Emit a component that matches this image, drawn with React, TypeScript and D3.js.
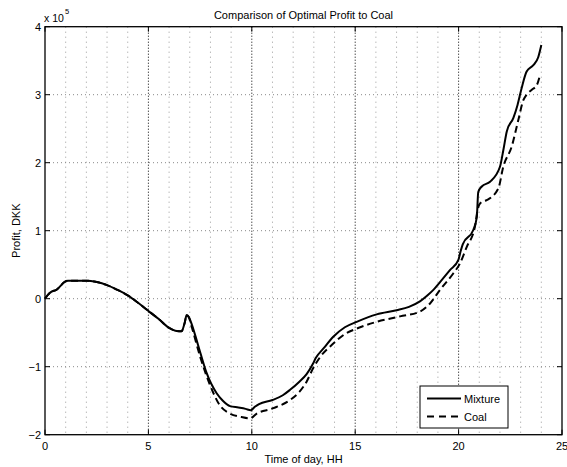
import React from 'react';
import * as d3 from 'd3';

const xTicks = [0, 5, 10, 15, 20, 25];
const yTicks = [-2, -1, 0, 1, 2, 3, 4];
const xMinorGrid = [1, 2, 3, 4, 6, 7, 8, 9, 11, 12, 13, 14, 16, 17, 18, 19, 21, 22, 23, 24];
const xMajorGrid = [5, 10, 15, 20];
const yGrid = [-1, 0, 1, 2, 3];

// shared part of both curves (hours, profit x 1e5 DKK)
const sharedX = [0, 0.15, 0.3, 0.55, 0.97, 1.1, 1.5, 2.0, 2.5, 3.0, 3.5, 4.0, 4.5, 5.0, 5.5, 6.0, 6.3, 6.6, 6.75, 6.85, 6.95];
const sharedY = [0, 0.06, 0.1, 0.13, 0.25, 0.265, 0.265, 0.265, 0.245, 0.2, 0.13, 0.05, -0.06, -0.18, -0.3, -0.43, -0.47, -0.48, -0.36, -0.24, -0.27];

const mixtureX = [7.1, 7.4, 7.8, 8.3, 8.6, 8.95, 9.35, 9.7, 9.95, 10.15, 10.35, 11.0, 11.5, 11.85, 12.3, 12.65, 12.95, 13.1, 13.5, 13.94, 14.5, 15.07, 16.04, 17.0, 17.6, 18.13, 18.5, 18.78, 19.2, 19.58, 19.99, 20.1, 20.2, 20.71, 20.88, 20.95, 21.12, 21.52, 22.0, 22.16, 22.33, 22.65, 22.85, 23.05, 23.29, 23.6, 23.85, 24.0];
const mixtureY = [-0.38, -0.68, -1.08, -1.39, -1.5, -1.58, -1.6, -1.62, -1.64, -1.59, -1.55, -1.49, -1.42, -1.34, -1.22, -1.11, -0.96, -0.87, -0.72, -0.56, -0.42, -0.34, -0.23, -0.17, -0.12, -0.04, 0.05, 0.13, 0.28, 0.42, 0.57, 0.7, 0.8, 1.01, 1.2, 1.57, 1.65, 1.72, 1.94, 2.18, 2.46, 2.66, 2.85, 3.1, 3.34, 3.43, 3.55, 3.73];

const coalX = [7.1, 7.5, 7.98, 8.46, 8.95, 9.5, 9.91, 10.24, 11.04, 11.85, 12.3, 12.65, 12.97, 13.3, 13.94, 14.5, 15.07, 16.04, 17.17, 18.13, 18.62, 19.1, 19.74, 20.07, 20.39, 20.79, 20.95, 21.1, 21.36, 21.92, 22.16, 22.57, 22.89, 23.13, 23.29, 23.53, 23.78, 23.94];
const coalY = [-0.42, -0.85, -1.27, -1.57, -1.69, -1.74, -1.76, -1.69, -1.61, -1.49, -1.37, -1.22, -1.02, -0.86, -0.66, -0.52, -0.44, -0.34, -0.26, -0.19, -0.07, 0.13, 0.37, 0.52, 0.76, 1.06, 1.35, 1.42, 1.45, 1.62, 1.94, 2.24, 2.63, 2.92, 3.0, 3.07, 3.14, 3.29];

const FONT = 'Liberation Sans, Arial, Helvetica, sans-serif';

export default function App() {
  const W = 567, H = 467;
  const L = 45, R = 562, T = 26.7, B = 434.7;
  const x = d3.scaleLinear().domain([0, 25]).range([L, R]);
  const y = d3.scaleLinear().domain([-2, 4]).range([B, T]);

  const mix: [number, number][] = [
    ...sharedX.map((v, i) => [v, sharedY[i]] as [number, number]),
    ...mixtureX.map((v, i) => [v, mixtureY[i]] as [number, number]),
  ];
  const coal: [number, number][] = [
    ...sharedX.map((v, i) => [v, sharedY[i]] as [number, number]),
    ...coalX.map((v, i) => [v, coalY[i]] as [number, number]),
  ];

  const lg = d3.line<[number, number]>().x(d => x(d[0])).y(d => y(d[1])).curve(d3.curveMonotoneX);

  const fmt = (v: number) => (v < 0 ? '\u2212' + Math.abs(v) : String(v));

  return (
    <svg width={W} height={H} style={{ position: 'absolute', left: 0, top: 0, background: '#fff' }} fontFamily={FONT}>
      <rect x={0} y={0} width={W} height={H} fill="#fff" />
      {/* grid */}
      {xMinorGrid.map(v => (
        <line key={'xm' + v} x1={x(v)} x2={x(v)} y1={T} y2={B} stroke="#9a9a9a" strokeWidth={1} strokeDasharray="1,4" />
      ))}
      {xMajorGrid.map(v => (
        <line key={'xM' + v} x1={x(v)} x2={x(v)} y1={T} y2={B} stroke="#000" strokeWidth={1} strokeDasharray="1,2" />
      ))}
      {yGrid.map(v => (
        <line key={'y' + v} x1={L} x2={R} y1={y(v)} y2={y(v)} stroke="#888" strokeWidth={1} strokeDasharray="1,3" />
      ))}
      {/* curves */}
      <path d={lg(mix) || ''} fill="none" stroke="#000" strokeWidth={2} />
      <path d={lg(coal) || ''} fill="none" stroke="#000" strokeWidth={2} strokeDasharray="7,4" />
      {/* frame */}
      <rect x={L} y={T} width={R - L} height={B - T} fill="none" stroke="#000" strokeWidth={1.3} />
      {xTicks.map(v => (
        <g key={'xt' + v}>
          <line x1={x(v)} x2={x(v)} y1={B} y2={B - 5} stroke="#000" strokeWidth={1} />
          <line x1={x(v)} x2={x(v)} y1={T} y2={T + 5} stroke="#000" strokeWidth={1} />
          <text x={x(v)} y={449.5} fontSize={11} textAnchor="middle">{fmt(v)}</text>
        </g>
      ))}
      {yTicks.map(v => (
        <g key={'yt' + v}>
          <line x1={L} x2={L + 5} y1={y(v)} y2={y(v)} stroke="#000" strokeWidth={1} />
          <line x1={R} x2={R - 5} y1={y(v)} y2={y(v)} stroke="#000" strokeWidth={1} />
          <text x={41} y={y(v) + 4} fontSize={11} textAnchor="end">{fmt(v)}</text>
        </g>
      ))}
      {/* multiplier */}
      <text x={44} y={21.5} fontSize={10.5}>x 10</text>
      <text x={65} y={14} fontSize={7.5}>5</text>
      {/* titles */}
      <text x={(L + R) / 2} y={18.5} fontSize={11} textAnchor="middle">Comparison of Optimal Profit to Coal</text>
      <text x={(L + R) / 2} y={462.5} fontSize={11} textAnchor="middle">Time of day, HH</text>
      <text transform={`translate(19.5,${(T + B) / 2}) rotate(-90)`} fontSize={11} textAnchor="middle">Profit, DKK</text>
      {/* legend */}
      <rect x={420} y={386} width={88} height={42} fill="#fff" stroke="#000" strokeWidth={1} />
      <line x1={427} x2={461} y1={398.5} y2={398.5} stroke="#000" strokeWidth={2} />
      <text x={464} y={402.5} fontSize={11}>Mixture</text>
      <line x1={427} x2={461} y1={416.5} y2={416.5} stroke="#000" strokeWidth={2} strokeDasharray="7,5" />
      <text x={464} y={420.5} fontSize={11}>Coal</text>
    </svg>
  );
}
